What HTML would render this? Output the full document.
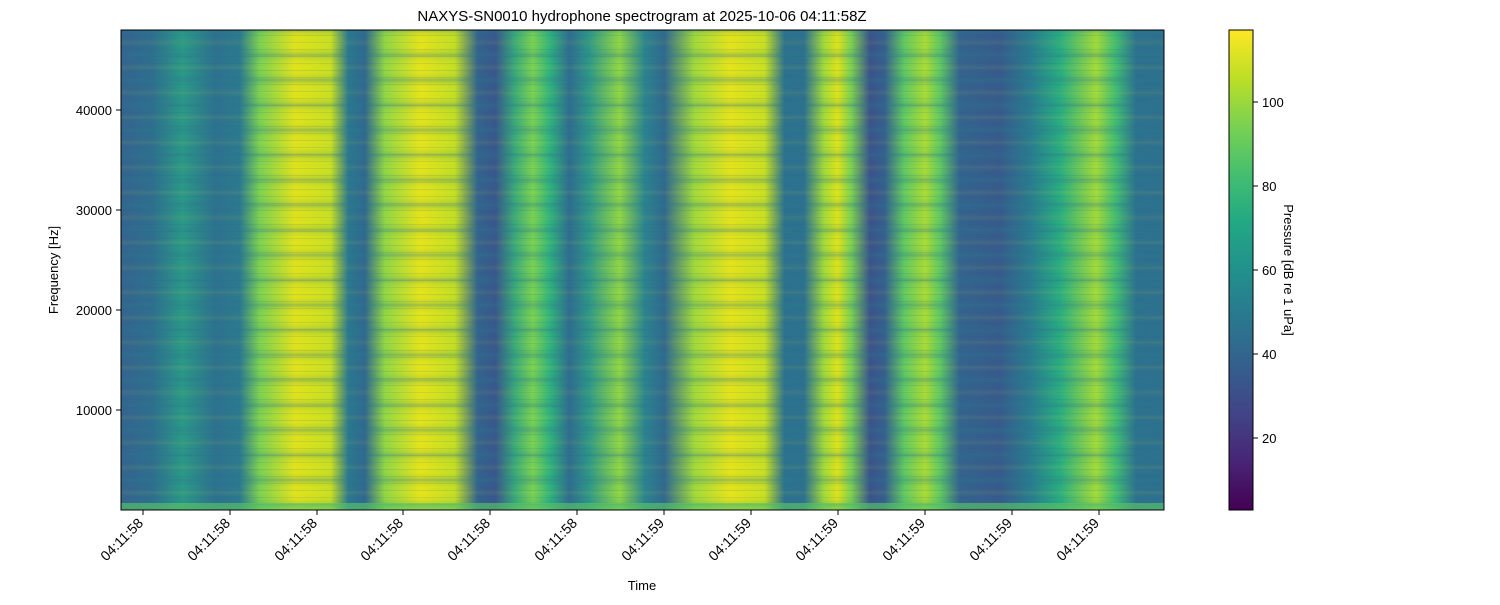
<!DOCTYPE html>
<html><head><meta charset="utf-8"><style>body{margin:0;background:#fff}</style></head><body>
<svg width="1500" height="600" xmlns="http://www.w3.org/2000/svg" font-family="Liberation Sans, DejaVu Sans, sans-serif" font-size="13">
<defs>
<linearGradient id="cols" x1="0" x2="1" y1="0" y2="0">
<stop offset="0" stop-color="#34648e"/><stop offset=".03" stop-color="#2e6e8e"/><stop offset=".059" stop-color="#2a9a86"/>
<stop offset=".09" stop-color="#2d718e"/><stop offset=".114" stop-color="#2c7a8e"/><stop offset=".133" stop-color="#7ad151"/>
<stop offset=".167" stop-color="#e0e31a"/><stop offset=".201" stop-color="#c8e020"/><stop offset=".218" stop-color="#2a788e"/>
<stop offset=".234" stop-color="#31688e"/><stop offset=".253" stop-color="#8fd744"/><stop offset=".287" stop-color="#e5e419"/>
<stop offset=".320" stop-color="#c2df23"/><stop offset=".342" stop-color="#33638d"/><stop offset=".359" stop-color="#39568c"/>
<stop offset=".378" stop-color="#3aac78"/><stop offset=".395" stop-color="#78d152"/><stop offset=".411" stop-color="#2fb47c"/>
<stop offset=".43" stop-color="#2f6c8e"/><stop offset=".449" stop-color="#2e9a86"/><stop offset=".478" stop-color="#8ed645"/>
<stop offset=".502" stop-color="#2a858e"/><stop offset=".521" stop-color="#31688e"/><stop offset=".550" stop-color="#9fda3a"/>
<stop offset=".584" stop-color="#e5e419"/><stop offset=".617" stop-color="#c8e020"/><stop offset=".636" stop-color="#2c728e"/>
<stop offset=".655" stop-color="#2d718e"/><stop offset=".674" stop-color="#a0da39"/><stop offset=".687" stop-color="#dde318"/>
<stop offset=".700" stop-color="#7ad151"/><stop offset=".718" stop-color="#3b528b"/><stop offset=".732" stop-color="#355f8d"/>
<stop offset=".751" stop-color="#5ec962"/><stop offset=".771" stop-color="#a8db34"/><stop offset=".785" stop-color="#5ec962"/>
<stop offset=".804" stop-color="#33638d"/><stop offset=".843" stop-color="#375a8c"/><stop offset=".872" stop-color="#287d8e"/>
<stop offset=".901" stop-color="#29af7f"/><stop offset=".935" stop-color="#a0da39"/><stop offset=".954" stop-color="#3fbc73"/>
<stop offset=".973" stop-color="#2c728e"/><stop offset="1" stop-color="#2d708e"/>
</linearGradient>
<linearGradient id="sg" x1="0" x2="0" y1="0" y2="1">
<stop offset="0" stop-color="#2a788e" stop-opacity="0.35"/>
<stop offset="0.12" stop-color="#2a788e" stop-opacity="0.1"/>
<stop offset="0.3" stop-color="#2a788e" stop-opacity="0"/>
<stop offset="0.5" stop-color="#fde725" stop-opacity="0.08"/>
<stop offset="0.7" stop-color="#2a788e" stop-opacity="0"/>
<stop offset="0.9" stop-color="#2a788e" stop-opacity="0.12"/>
<stop offset="1" stop-color="#2a788e" stop-opacity="0.35"/>
</linearGradient>
<pattern id="stripes" x="0" y="5" width="10" height="25" patternUnits="userSpaceOnUse">
<rect x="0" y="0" width="10" height="25" fill="url(#sg)"/>
</pattern>
<pattern id="noise" x="0" y="0" width="10" height="7" patternUnits="userSpaceOnUse">
<rect x="0" y="0" width="10" height="1" fill="#3b528b" opacity="0.12"/>
</pattern>
<linearGradient id="vir" x1="0" x2="0" y1="1" y2="0">
<stop offset="0" stop-color="#440154"/><stop offset=".1" stop-color="#482475"/><stop offset=".2" stop-color="#414487"/>
<stop offset=".3" stop-color="#355f8d"/><stop offset=".4" stop-color="#2a788e"/><stop offset=".5" stop-color="#21918c"/>
<stop offset=".6" stop-color="#22a884"/><stop offset=".7" stop-color="#44bf70"/><stop offset=".8" stop-color="#7ad151"/>
<stop offset=".9" stop-color="#bddf26"/><stop offset="1" stop-color="#fde725"/>
</linearGradient>
</defs>
<text x="642" y="21" text-anchor="middle" font-size="15">NAXYS-SN0010 hydrophone spectrogram at 2025-10-06 04:11:58Z</text>
<rect x="121" y="30" width="1043" height="480" fill="url(#cols)"/>
<rect x="121" y="30" width="1043" height="480" fill="url(#stripes)"/>
<rect x="121" y="30" width="1043" height="480" fill="url(#noise)"/>
<rect x="121" y="503" width="1043" height="7" fill="#5ec962" opacity="0.6"/>
<rect x="121" y="30" width="1043" height="480" fill="none" stroke="#000" stroke-width="1"/>
<g stroke="#000">
<line x1="116" y1="410" x2="121" y2="410"/><line x1="116" y1="310" x2="121" y2="310"/>
<line x1="116" y1="210" x2="121" y2="210"/><line x1="116" y1="110" x2="121" y2="110"/>
</g>
<g text-anchor="end">
<text x="112" y="415">10000</text><text x="112" y="315">20000</text>
<text x="112" y="215">30000</text><text x="112" y="115">40000</text>
</g>
<text transform="translate(58,270) rotate(-90)" text-anchor="middle">Frequency [Hz]</text>
<g stroke="#000">
<line x1="143" y1="510" x2="143" y2="515"/><line x1="230" y1="510" x2="230" y2="515"/><line x1="317" y1="510" x2="317" y2="515"/>
<line x1="403" y1="510" x2="403" y2="515"/><line x1="490" y1="510" x2="490" y2="515"/><line x1="577" y1="510" x2="577" y2="515"/>
<line x1="664" y1="510" x2="664" y2="515"/><line x1="751" y1="510" x2="751" y2="515"/><line x1="838" y1="510" x2="838" y2="515"/>
<line x1="925" y1="510" x2="925" y2="515"/><line x1="1012" y1="510" x2="1012" y2="515"/><line x1="1099" y1="510" x2="1099" y2="515"/>
</g>
<g text-anchor="end" font-size="14">
<text transform="translate(144,524) rotate(-45)">04:11:58</text>
<text transform="translate(231,524) rotate(-45)">04:11:58</text>
<text transform="translate(318,524) rotate(-45)">04:11:58</text>
<text transform="translate(404,524) rotate(-45)">04:11:58</text>
<text transform="translate(491,524) rotate(-45)">04:11:58</text>
<text transform="translate(578,524) rotate(-45)">04:11:58</text>
<text transform="translate(665,524) rotate(-45)">04:11:59</text>
<text transform="translate(752,524) rotate(-45)">04:11:59</text>
<text transform="translate(839,524) rotate(-45)">04:11:59</text>
<text transform="translate(926,524) rotate(-45)">04:11:59</text>
<text transform="translate(1013,524) rotate(-45)">04:11:59</text>
<text transform="translate(1100,524) rotate(-45)">04:11:59</text>
</g>
<text x="642" y="590" text-anchor="middle">Time</text>
<rect x="1229" y="30" width="24" height="480" fill="url(#vir)" stroke="#000" stroke-width="1"/>
<g stroke="#000">
<line x1="1253" y1="438" x2="1258" y2="438"/><line x1="1253" y1="354" x2="1258" y2="354"/>
<line x1="1253" y1="270" x2="1258" y2="270"/><line x1="1253" y1="186" x2="1258" y2="186"/>
<line x1="1253" y1="102" x2="1258" y2="102"/>
</g>
<text x="1262" y="443">20</text><text x="1262" y="359">40</text><text x="1262" y="275">60</text>
<text x="1262" y="191">80</text><text x="1262" y="107">100</text>
<text transform="translate(1284,270) rotate(90)" text-anchor="middle">Pressure [dB re 1 uPa]</text>
</svg>
</body></html>
